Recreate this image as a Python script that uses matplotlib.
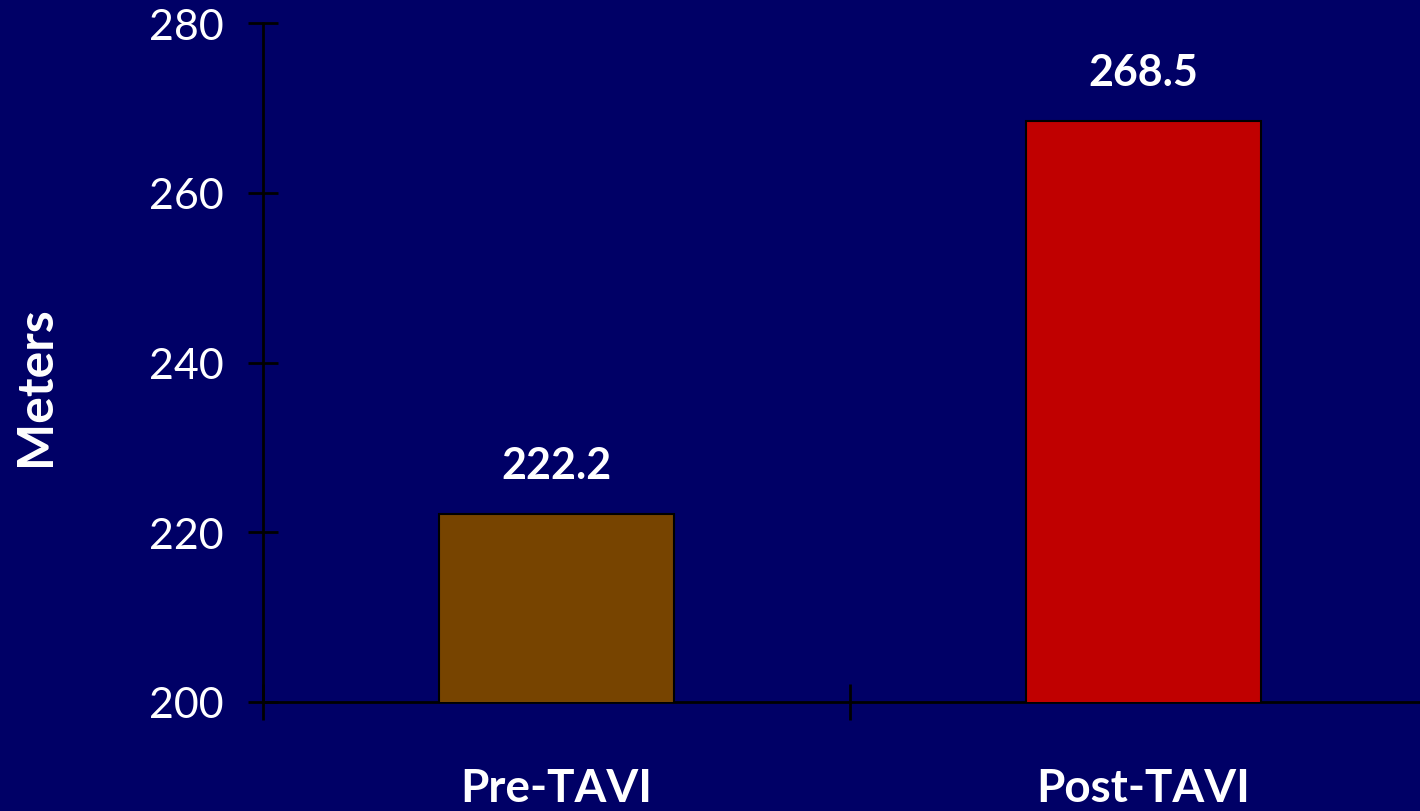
import matplotlib
matplotlib.use("Agg")
import matplotlib.pyplot as plt

categories = ["Pre-TAVI", "Post-TAVI"]
values = [222.2, 268.5]
bar_colors = ["#774400", "#C00000"]
y_ticks = [200, 220, 240, 260, 280]

BG = "#000066"
plt.rcParams["font.family"] = ["Lato", "DejaVu Sans"]

fig = plt.figure(figsize=(14.2, 8.12), dpi=100, facecolor=BG)
ax = fig.add_axes([263 / 1420, 1 - 703 / 812, 1174 / 1420, (703 - 24) / 812])
ax.set_facecolor(BG)

x = list(range(len(categories)))
ax.bar(x, values, width=0.4, color=bar_colors, edgecolor="black", linewidth=1.5, zorder=3)

for xi, v in zip(x, values):
    ax.annotate(f"{v:.1f}", (xi, v), xytext=(0, 49), textcoords="offset pixels",
                ha="center", va="center", color="white", fontsize=31, fontweight="bold")

ax.set_xlim(-0.5, 1.5)
ax.set_ylim(200, 280)
ax.set_yticks(y_ticks)
ax.set_yticklabels([str(t) for t in y_ticks], color="white", fontsize=31)
ax.tick_params(axis="y", direction="inout", length=22, width=2, color="black", pad=17)

# category boundaries carry the ticks; labels sit at the bar centres
ax.set_xticks([-0.5, 0.5, 1.5])
ax.set_xticklabels([])
ax.set_xticks(x, minor=True)
ax.set_xticklabels(categories, minor=True, color="white", fontsize=33, fontweight="bold")
ax.tick_params(axis="x", which="major", direction="inout", length=26, width=2, color="black")
ax.tick_params(axis="x", which="minor", length=0, pad=47)

for side in ("top", "right"):
    ax.spines[side].set_visible(False)
for side in ("left", "bottom"):
    ax.spines[side].set_color("black")
    ax.spines[side].set_linewidth(2)

fig.text(36 / 1420, 1 - 386 / 812, "Meters", rotation=90, ha="center", va="center",
         color="white", fontsize=36, fontweight="bold")

fig.savefig("out.png", dpi=100, facecolor=BG)
